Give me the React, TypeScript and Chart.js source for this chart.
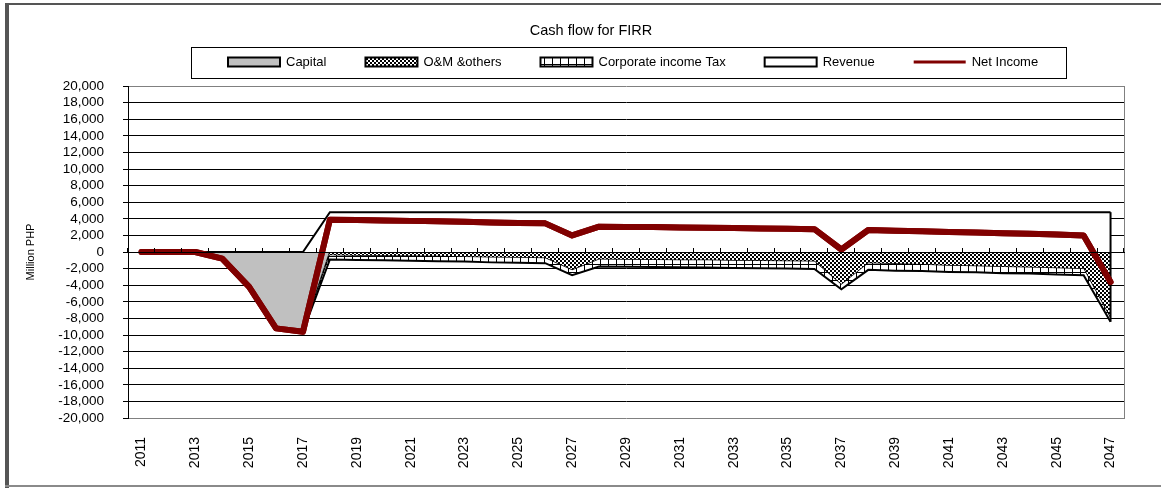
import React, { useEffect, useRef } from 'react';
import { Chart, registerables } from 'chart.js';

Chart.register(...registerables);

const FONT = '"Liberation Sans", Arial, sans-serif';

const years = [
  '2011', '2012', '2013', '2014', '2015', '2016', '2017', '2018', '2019', '2020',
  '2021', '2022', '2023', '2024', '2025', '2026', '2027', '2028', '2029', '2030',
  '2031', '2032', '2033', '2034', '2035', '2036', '2037', '2038', '2039', '2040',
  '2041', '2042', '2043', '2044', '2045', '2046', '2047',
];

const capital = [
  0, 0, 0, -800, -4200, -9200, -9600, 0, 0, 0,
  0, 0, 0, 0, 0, 0, 0, 0, 0, 0,
  0, 0, 0, 0, 0, 0, 0, 0, 0, 0,
  0, 0, 0, 0, 0, 0, 0,
];

const omOthers = [
  0, 0, 0, 0, 0, 0, 0, -400, -450, -480,
  -500, -550, -600, -650, -700, -750, -2200, -900, -920, -950,
  -980, -1000, -1050, -1080, -1120, -1150, -3950, -1350, -1450, -1550,
  -1650, -1720, -1800, -1880, -1950, -2050, -8000,
];

const corporateTax = [
  0, 0, 0, 0, 0, 0, 0, -500, -500, -520,
  -550, -550, -550, -600, -600, -600, -600, -850, -860, -850,
  -870, -880, -870, -880, -880, -900, -550, -800, -800, -750,
  -750, -730, -750, -720, -750, -750, -400,
];

const revenue = [
  0, 0, 0, 0, 0, 0, 0, 4800, 4800, 4800,
  4800, 4800, 4800, 4800, 4800, 4800, 4800, 4800, 4800, 4800,
  4800, 4800, 4800, 4800, 4800, 4800, 4800, 4800, 4800, 4800,
  4800, 4800, 4800, 4800, 4800, 4800, 4800,
];

const netIncome = [
  0, 0, 0, -800, -4200, -9200, -9600, 3900, 3850, 3800,
  3750, 3700, 3650, 3550, 3500, 3450, 2000, 3050, 3020, 3000,
  2950, 2920, 2880, 2840, 2800, 2750, 300, 2650, 2550, 2500,
  2400, 2350, 2250, 2200, 2100, 2000, -3600,
];

const seriesNames = ['Capital', 'O&M &others', 'Corporate income Tax', 'Revenue', 'Net Income'];
const yMin = -20000;
const yMax = 20000;
const yStep = 2000;
const chartTitle = 'Cash flow for FIRR';
const yTitle = 'Million PHP';

function makeChecker(): CanvasPattern | string {
  const c = document.createElement('canvas');
  c.width = 4;
  c.height = 4;
  const g = c.getContext('2d');
  if (!g) return '#808080';
  g.fillStyle = '#ffffff';
  g.fillRect(0, 0, 4, 4);
  g.fillStyle = '#000000';
  g.fillRect(0, 0, 2, 2);
  g.fillRect(2, 2, 2, 2);
  return g.createPattern(c, 'repeat') || '#808080';
}

function makeBricks(): CanvasPattern | string {
  const c = document.createElement('canvas');
  c.width = 8;
  c.height = 8;
  const g = c.getContext('2d');
  if (!g) return '#ffffff';
  g.fillStyle = '#ffffff';
  g.fillRect(0, 0, 8, 8);
  g.fillStyle = '#000000';
  g.fillRect(0, 0, 1, 8);
  g.fillRect(0, 0, 8, 1);
  return g.createPattern(c, 'repeat') || '#ffffff';
}

const framePlugin = {
  id: 'frame',
  afterDraw(chart: any) {
    const ctx = chart.ctx;
    ctx.save();
    ctx.fillStyle = '#555555';
    ctx.fillRect(5, 3, 4, 485);
    ctx.fillRect(5, 3, 1156, 2);
    ctx.fillStyle = '#8a8a8a';
    ctx.fillRect(5, 485, 1156, 2);
    ctx.restore();
  },
};

// closes the stacked areas at the last category with a vertical edge, as the area outline does
const areaEdgePlugin = {
  id: 'areaEdge',
  afterDatasetsDraw(chart: any) {
    const ctx = chart.ctx;
    const top = chart.getDatasetMeta(3).data;
    const bottom = chart.getDatasetMeta(2).data;
    const n = top.length;
    if (!n || !bottom.length) return;
    const p1 = top[n - 1];
    const p2 = bottom[bottom.length - 1];
    ctx.save();
    ctx.strokeStyle = '#000';
    ctx.lineWidth = 2;
    ctx.beginPath();
    ctx.moveTo(p1.x, p1.y);
    ctx.lineTo(p2.x, p2.y);
    ctx.stroke();
    // net income line stays on top
    const net = chart.getDatasetMeta(4);
    if (net && net.dataset) net.dataset.draw(ctx, chart.chartArea);
    ctx.restore();
  },
};

const legendBoxPlugin = {
  id: 'boxLegend',
  afterDraw(chart: any) {
    const ctx = chart.ctx;
    const sets = chart.data.datasets;
    ctx.save();
    ctx.font = `13px ${FONT}`;
    const sw = 52;
    const sh = 9;
    const gap = 6;
    const spacing = 39;
    const widths = sets.map((d: any) => sw + gap + ctx.measureText(d.label).width);
    const total = widths.reduce((a: number, b: number) => a + b, 0) + spacing * (sets.length - 1);
    let x = Math.round(633 - total / 2);
    const cy = 62;
    ctx.strokeStyle = '#000';
    ctx.lineWidth = 1;
    ctx.strokeRect(x - 37 + 0.5, 47.5, Math.round(total + 37 + 28), 31);
    sets.forEach((d: any, i: number) => {
      if (d.fill === false) {
        ctx.strokeStyle = d.borderColor;
        ctx.lineWidth = 3;
        ctx.beginPath();
        ctx.moveTo(x, cy);
        ctx.lineTo(x + sw, cy);
        ctx.stroke();
      } else {
        ctx.fillStyle = d.backgroundColor;
        ctx.fillRect(x, cy - sh / 2, sw, sh);
        ctx.strokeStyle = '#000';
        ctx.lineWidth = 2;
        ctx.strokeRect(x, cy - sh / 2, sw, sh);
      }
      ctx.fillStyle = '#000';
      ctx.textBaseline = 'middle';
      ctx.textAlign = 'left';
      ctx.fillText(d.label, x + sw + gap, cy);
      x += widths[i] + spacing;
    });
    ctx.restore();
  },
};

export default function App() {
  const ref = useRef<HTMLCanvasElement | null>(null);

  useEffect(() => {
    document.body.style.margin = '0';
    const canvas = ref.current;
    if (!canvas) return;
    Chart.defaults.font.family = FONT;
    Chart.defaults.color = '#000';

    const omCum = capital.map((v, i) => v + omOthers[i]);
    const taxCum = omCum.map((v, i) => v + corporateTax[i]);

    const common = { pointRadius: 0, pointHoverRadius: 0, tension: 0, xAxisID: 'x', yAxisID: 'y' };

    const chart = new Chart(canvas, {
      type: 'line',
      data: {
        labels: years,
        datasets: [
          { ...common, label: seriesNames[0], data: capital, fill: 'origin', backgroundColor: '#c0c0c0', borderColor: '#000', borderWidth: 1.5, order: 4 },
          { ...common, label: seriesNames[1], data: omCum, fill: '-1', backgroundColor: makeChecker(), borderColor: '#000', borderWidth: 1.5, order: 3 },
          { ...common, label: seriesNames[2], data: taxCum, fill: '-1', backgroundColor: makeBricks(), borderColor: '#000', borderWidth: 2, order: 2 },
          { ...common, label: seriesNames[3], data: revenue, fill: 'origin', backgroundColor: '#ffffff', borderColor: '#000', borderWidth: 2, order: 1 },
          { ...common, label: seriesNames[4], data: netIncome, fill: false, borderColor: '#800000', backgroundColor: '#800000', borderWidth: 6, borderCapStyle: 'round', borderJoinStyle: 'round', order: 0 },
        ] as any,
      },
      options: {
        animation: false,
        responsive: true,
        maintainAspectRatio: false,
        layout: { padding: { left: 21, right: 0, top: 0, bottom: 0 } },
        plugins: {
          legend: { display: false },
          tooltip: { enabled: false },
          title: {
            display: true,
            text: chartTitle,
            color: '#000',
            font: { size: 14.5, weight: 'normal', family: FONT },
            padding: { top: 22, bottom: 46.6 },
          },
        },
        scales: {
          x: {
            type: 'category',
            offset: true,
            grid: { display: false },
            border: { display: false },
            ticks: {
              autoSkip: false,
              maxRotation: 90,
              minRotation: 90,
              padding: 11,
              color: '#000',
              font: { size: 14 },
              callback: (_v: any, i: number) => (i % 2 === 0 ? years[i] : ''),
            },
            afterFit: (s: any) => { s.height = 70; },
          },
          x2: {
            type: 'category',
            axis: 'x',
            labels: years,
            offset: true,
            position: { y: 0 },
            grid: { display: true, drawOnChartArea: false, drawTicks: true, tickLength: -5, offset: true, color: '#000', z: 1 },
            border: { display: true, color: '#000', width: 1, z: 1 },
            ticks: { display: false },
          },
          y: {
            min: yMin,
            max: yMax,
            ticks: {
              stepSize: yStep,
              autoSkip: false,
              padding: 19,
              color: '#000',
              font: { size: 13.5, lineHeight: 1 },
              callback: (v: any) => Number(v).toLocaleString('en-US'),
            },
            grid: {
              color: (c: any) => (c.tick && Math.abs(c.tick.value) === yMax ? '#808080' : '#000'),
              tickColor: '#000',
              tickLength: 5,
              lineWidth: 1,
            },
            border: { display: true, color: '#000', width: 1 },
            title: {
              display: true,
              text: yTitle,
              color: '#000',
              font: { size: 11 },
              padding: { top: 3, bottom: 0 },
            },
            afterFit: (s: any) => { s.width = 107; },
          },
          y2: {
            position: 'right',
            axis: 'y',
            min: yMin,
            max: yMax,
            grid: { display: false },
            ticks: { display: false },
            border: { display: true, color: '#808080', width: 1 },
            afterFit: (s: any) => { s.width = 37; },
          },
        },
      } as any,
      plugins: [framePlugin, areaEdgePlugin, legendBoxPlugin],
    });

    return () => chart.destroy();
  }, []);

  return (
    <div style={{ position: 'relative', width: '1161px', height: '488px' }}>
      <canvas ref={ref} />
    </div>
  );
}
